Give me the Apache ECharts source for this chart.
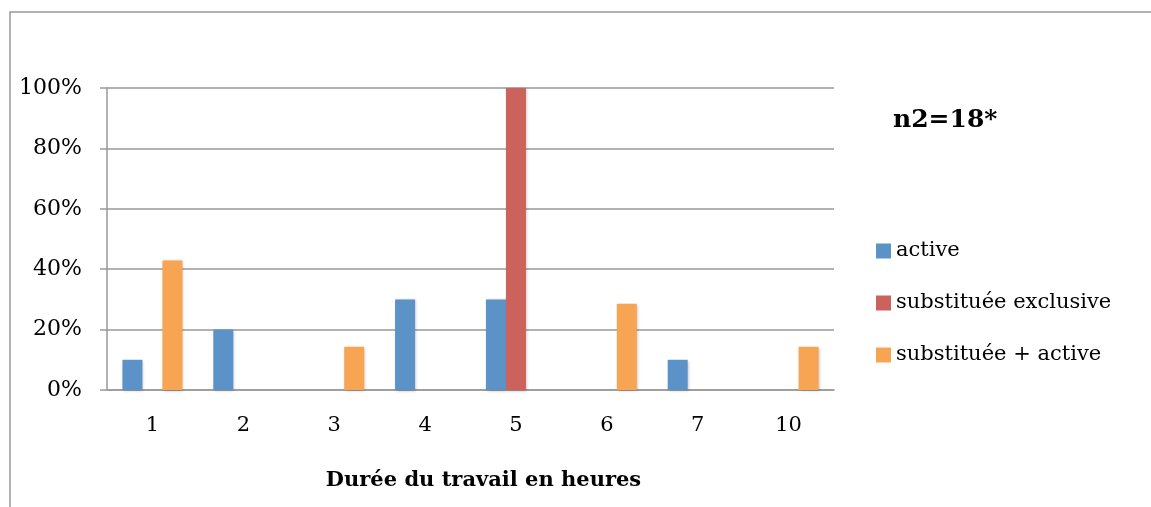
<!DOCTYPE html>
<html>
<head>
<meta charset="utf-8">
<script src="https://cdn.jsdelivr.net/npm/echarts@6/dist/echarts.min.js"></script>
<style>
	html, body { margin: 0; padding: 0; background: #fff; }
	#main { width: 1151px; height: 507px; }
</style>
</head>
<body>
<div id="main"></div>
<script>
// catégories : durée du travail en heures
var categories = ['1', '2', '3', '4', '5', '6', '7', '10'];
// pourcentages par série
var active = [10, 20, 0, 30, 30, 0, 10, 0];
var substitueeExclusive = [0, 0, 0, 0, 100, 0, 0, 0];
var substitueeActive = [42.9, 0, 14.3, 0, 0, 28.6, 0, 14.3];
var seriesNames = ['active', 'substituée exclusive', 'substituée + active'];
var colors = ['#5b93c8', '#cb625c', '#f8a553'];

var serif = '"DejaVu Serif", "Liberation Serif", serif';

function make_bar(name, data, color) {
	return {
		name : name,
		type : 'bar',
		data : data,
		barGap : '0%',
		barCategoryGap : '34%',
		itemStyle : {
			color : color,
			shadowBlur : 3,
			shadowColor : 'rgba(0,0,0,0.25)',
			shadowOffsetX : 1,
			shadowOffsetY : 1
		}
	};
}

var myChart = echarts.init(document.getElementById('main'));
var option = {
	animation : false,
	backgroundColor : '#fff',
	title : {
		text : 'n2=18*',
		left : 888,
		top : 103,
		textStyle : {
			fontFamily : serif,
			fontSize : 25,
			fontWeight : 'bold',
			color : '#000'
		}
	},
	legend : {
		orient : 'vertical',
		left : 871,
		top : 235,
		itemWidth : 15,
		itemHeight : 15,
		itemGap : 30,
		icon : 'rect',
		data : seriesNames,
		textStyle : {
			fontFamily : serif,
			fontSize : 21,
			lineHeight : 22,
			color : '#000'
		}
	},
	grid : {
		left : 107,
		right : 317,
		top : 88,
		bottom : 117
	},
	xAxis : {
		type : 'category',
		data : categories,
		name : 'Durée du travail en heures',
		nameLocation : 'middle',
		nameGap : 80,
		nameTextStyle : {
			fontFamily : serif,
			fontSize : 21,
			fontWeight : 'bold',
			color : '#000',
			padding : [0, 0, 0, 26]
		},
		axisLine : { lineStyle : { color : '#999', width : 1.5 } },
		axisTick : { length : 8, lineStyle : { color : '#999', width : 1.5 } },
		axisLabel : {
			margin : 25,
			fontFamily : serif,
			fontSize : 21,
			color : '#000'
		}
	},
	yAxis : {
		type : 'value',
		min : 0,
		max : 100,
		interval : 20,
		axisLine : { show : true, lineStyle : { color : '#999', width : 1.5 } },
		axisTick : { show : true, length : 7, lineStyle : { color : '#999', width : 1.5 } },
		splitLine : { lineStyle : { color : '#999', width : 1.5 } },
		axisLabel : {
			formatter : '{value}%',
			margin : 25,
			fontFamily : serif,
			fontSize : 22,
			color : '#000'
		}
	},
	graphic : [{
		type : 'polyline',
		shape : { points : [[10, 507], [10, 12], [1151, 12]] },
		style : { stroke : '#999', lineWidth : 1.5, fill : null }
	}],
	series : [
		make_bar(seriesNames[0], active, colors[0]),
		make_bar(seriesNames[1], substitueeExclusive, colors[1]),
		make_bar(seriesNames[2], substitueeActive, colors[2])
	]
};
myChart.setOption(option);
</script>
</body>
</html>
